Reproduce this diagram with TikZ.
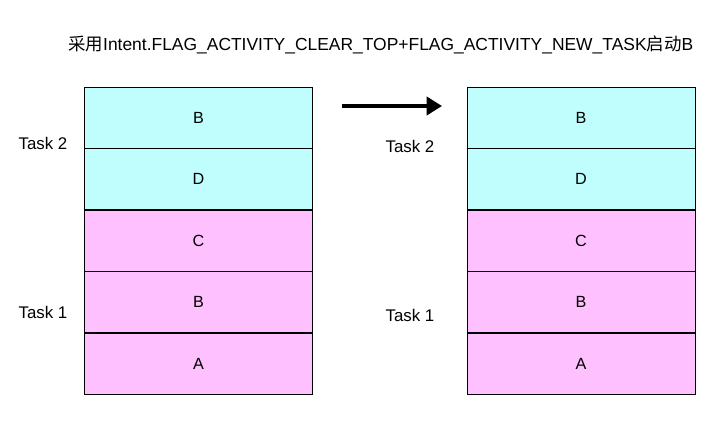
\documentclass[tikz,border=0pt]{standalone}
\usepackage{fontspec}
\setmainfont{Liberation Sans}
\newfontfamily\cjk{Noto Sans CJK SC}
\usepackage{tikz}
\usetikzlibrary{arrows.meta,positioning}
\definecolor{taskcyan}{HTML}{C0FEFE}
\definecolor{taskpink}{HTML}{FEC0FE}

\begin{document}
\begin{tikzpicture}[
    x=0.025cm, y=-0.025cm,
    act/.style={rectangle, draw, minimum width=5.7cm, minimum height=1.525cm,
                inner sep=0pt, font=\fontsize{11.5}{14}\selectfont},
    newtask/.style={act, fill=taskcyan},
    oldtask/.style={act, fill=taskpink},
    tasklabel/.style={font=\fontsize{12}{14}\selectfont},
    arrow/.style={-{Triangle[length=11pt,width=13pt]}, line width=2.5pt}
]
\useasboundingbox (0,0) rectangle (720,421);

% title
\node[font=\fontsize{12.4}{15}\selectfont, anchor=west, inner sep=0pt] (title) at (68,45)
  {{\cjk 采用}Intent.FLAG\_ACTIVITY\_CLEAR\_TOP+FLAG\_ACTIVITY\_NEW\_TASK{\cjk 启动}B};

% stack before
\node[newtask] (lb2) at (198.5,117.5) {B};
\node[newtask, below=0pt of lb2] (ld) {D};
\node[oldtask, below=0pt of ld] (lc) {C};
\node[oldtask, below=0pt of lc] (lb1) {B};
\node[oldtask, below=0pt of lb1] (la) {A};
\node[tasklabel] (lt2) at (43,143) {Task 2};
\node[tasklabel] (lt1) at (43,312) {Task 1};

% stack after
\node[newtask] (rb2) at (581,117.5) {B};
\node[newtask, below=0pt of rb2] (rd) {D};
\node[oldtask, below=0pt of rd] (rc) {C};
\node[oldtask, below=0pt of rc] (rb1) {B};
\node[oldtask, below=0pt of rb1] (ra) {A};
\node[tasklabel] (rt2) at (410,146) {Task 2};
\node[tasklabel] (rt1) at (410,315) {Task 1};

\coordinate (from) at (342,106);
\coordinate (to) at (442,106);
\draw[arrow] (from) -- (to);
\end{tikzpicture}
\end{document}
